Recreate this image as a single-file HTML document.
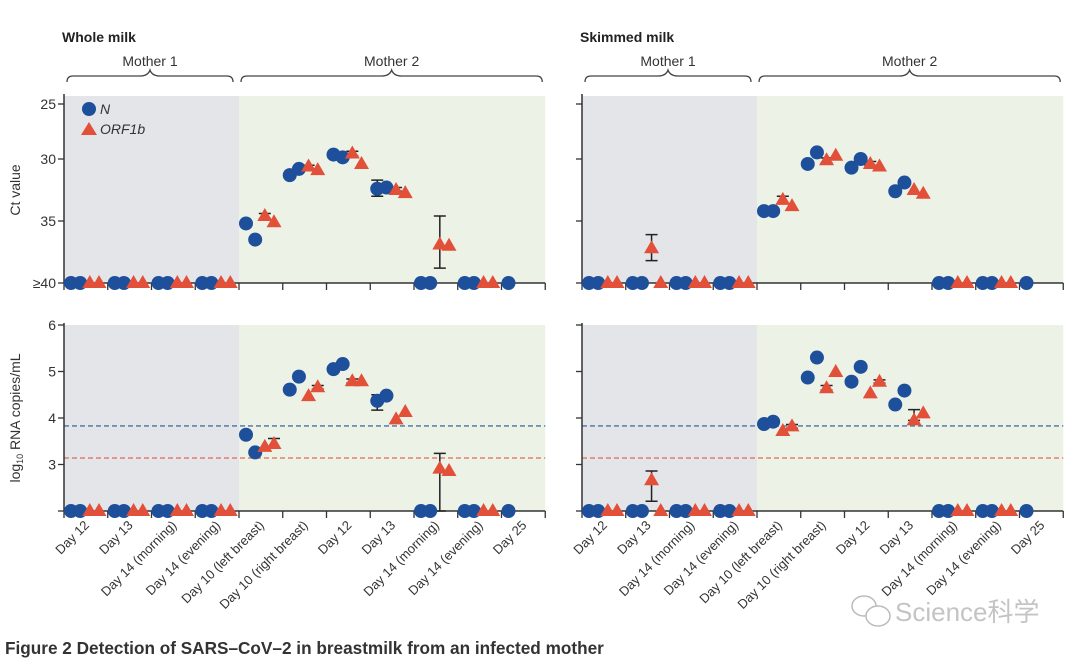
<!DOCTYPE html>
<html><head><meta charset="utf-8">
<style>
html,body{margin:0;padding:0;background:#fff;}
body{width:1080px;height:661px;overflow:hidden;font-family:"Liberation Sans","Noto Sans CJK SC",sans-serif;}
svg text{font-family:"Liberation Sans","Noto Sans CJK SC",sans-serif;}
</style></head>
<body>
<svg id="fig" width="1080" height="661" viewBox="0 0 1080 661" xmlns="http://www.w3.org/2000/svg">
</svg>
<script>
// ---- data ----
const categories = ["Day 12","Day 13","Day 14 (morning)","Day 14 (evening)","Day 10 (left breast)","Day 10 (right breast)","Day 12","Day 13","Day 14 (morning)","Day 14 (evening)","Day 25"];
// each category: [N rep1, N rep2, ORF1b rep1, ORF1b rep2]; null = no point
const wholeCt = [
 [40,40,40,40],[40,40,40,40],[40,40,40,40],[40,40,40,40],
 [35.2,36.5,34.6,35.1],[31.3,30.8,30.6,30.9],[29.6,29.85,29.5,30.4],
 [32.4,32.3,32.5,32.75],[40,40,36.9,37.0],[40,40,40,40],[40,null,null,null]];
const wholeCopies = [
 [2,2,2,2],[2,2,2,2],[2,2,2,2],[2,2,2,2],
 [3.64,3.26,3.38,3.44],[4.61,4.89,4.47,4.66],[5.05,5.16,4.79,4.79],
 [4.37,4.48,3.97,4.13],[2,2,2.91,2.86],[2,2,2,2],[2,null,null,null]];
const skimCt = [
 [40,40,40,40],[40,40,37.2,40],[40,40,40,40],[40,40,40,40],
 [34.2,34.2,33.3,33.8],[30.4,29.4,30.1,29.7],[30.7,30.0,30.4,30.6],
 [32.6,31.9,32.5,32.8],[40,40,40,40],[40,40,40,40],[40,null,null,null]];
const skimCopies = [
 [2,2,2,2],[2,2,2.66,2],[2,2,2,2],[2,2,2,2],
 [3.87,3.92,3.72,3.82],[4.87,5.30,4.64,4.99],[4.78,5.10,4.53,4.78],
 [4.29,4.59,3.95,4.10],[2,2,2,2],[2,2,2,2],[2,null,null,null]];
// error bars: [category, slot, low, high]
const wholeCtErr = [[4,2,34.4,34.8],[7,0,31.7,33.0],[7,2,32.3,32.6],[8,2,34.6,38.8],[6,2,29.3,29.7],[5,2,30.5,30.8]];
const wholeCopiesErr = [[4,3,3.35,3.56],[7,0,4.17,4.5],[8,2,2.0,3.24],[6,2,4.75,4.84],[5,3,4.62,4.7]];
const skimCtErr = [[1,2,36.1,38.2],[4,2,33.0,33.6],[7,1,31.7,32.0],[6,2,30.2,30.5],[5,2,29.9,30.3]];
const skimCopiesErr = [[1,2,2.21,2.86],[7,2,3.95,4.18],[4,3,3.78,3.86],[5,2,4.6,4.7],[6,3,4.75,4.82]];
const ctTicks = [25,30,35,40];
const ctTickLabels = ["25","30","35","≥40"];
const copiesTicks = [3,4,5,6];
const lodN = 3.83, lodORF = 3.14;

// ---- layout ----
const NS="http://www.w3.org/2000/svg";
const svg=document.getElementById('fig');
function el(tag,attrs,parent){const e=document.createElementNS(NS,tag);for(const k in attrs)e.setAttribute(k,attrs[k]);(parent||svg).appendChild(e);return e;}
const BLUE="#1d4f9b", RED="#e2503a";
const catW=43.75, slots=[0.16,0.37,0.59,0.80];
const ctPx=[104,159,221,283]; // pixel positions of ct ticks (broken axis)
function yCt(v){for(let i=0;i<ctTicks.length-1;i++){if(v<=ctTicks[i+1]){return ctPx[i]+(v-ctTicks[i])/(ctTicks[i+1]-ctTicks[i])*(ctPx[i+1]-ctPx[i]);}}return ctPx[3];}
function yCopies(v){return 511-(v-2)*46.5;}

function drawPanel(x0,name,ctData,cpData,ctErr,cpErr,showLabels){
  const g=el('g',{});  
  const xEnd=x0+catW*11, xSplit=x0+catW*4;
  const xOf=(c,s)=>x0+catW*c+catW*slots[s];
  [[96,283,yCt,ctData,ctErr,'ct'],[325,511,yCopies,cpData,cpErr,'copies']].forEach(([top,bot,yf,data,err,kind])=>{
    const sg=el('g',{},g);  
    const r1=el('rect',{x:x0,y:top,width:xSplit-x0,height:bot-top,fill:'#e3e5e9'},sg);
     
    const r2=el('rect',{x:xSplit,y:top,width:xEnd-xSplit,height:bot-top,fill:'#edf2e6'},sg);
     
    if(kind==='copies'){
      const l1=el('line',{x1:x0,x2:xEnd,y1:yCopies(lodN),y2:yCopies(lodN),stroke:'#4d6fa8','stroke-width':1.4,'stroke-dasharray':'5,3'},sg);
       
      const l2=el('line',{x1:x0,x2:xEnd,y1:yCopies(lodORF),y2:yCopies(lodORF),stroke:'#e2806e','stroke-width':1.4,'stroke-dasharray':'5,3'},sg);
       
    }
    el('line',{x1:x0,x2:x0,y1:top-2,y2:bot,stroke:'#333','stroke-width':1.5},sg);
    el('line',{x1:x0,x2:xEnd,y1:bot,y2:bot,stroke:'#333','stroke-width':1.5},sg);
    for(let c=0;c<=11;c++){el('line',{x1:x0+c*catW,x2:x0+c*catW,y1:bot,y2:bot+7,stroke:'#333','stroke-width':1.3},sg);}
    const tv= kind==='ct'?ctTicks:[2].concat(copiesTicks);
    tv.forEach((v,i)=>{const y=yf(v);el('line',{x1:x0-6,x2:x0,y1:y,y2:y,stroke:'#333','stroke-width':1.3},sg);
      if(showLabels && !(kind==='copies'&&v===2)){const t=el('text',{x:x0-8,y:y+5,'text-anchor':'end','font-size':14,fill:'#333'},sg);
        t.textContent= kind==='ct'?ctTickLabels[i]:String(v);
         }});
    err.forEach(([c,s,lo,hi])=>{const x=xOf(c,s);const ya=yf(lo),yb=yf(hi);
      const e=el('path',{d:`M${x},${ya}V${yb}M${x-6},${ya}H${x+6}M${x-6},${yb}H${x+6}`,stroke:'#222','stroke-width':1.5,fill:'none'},sg);
       });
    data.forEach((vals,c)=>{vals.forEach((v,s)=>{if(v===null)return;const x=xOf(c,s),y=yf(v);
      if(s<2){const m=el('circle',{cx:x,cy:y,r:7,fill:BLUE},sg);
         }
      else{const m=el('polygon',{points:`${x},${y-8} ${x-7.5},${y+5} ${x+7.5},${y+5}`,fill:RED},sg);
         }});});
  });
  categories.forEach((lab,c)=>{const cx=x0+catW*(c+0.5)+4;const t=el('text',{x:cx,y:526,'text-anchor':'end','font-size':13,fill:'#333',transform:`rotate(-45 ${cx} 526)`},g);
    t.textContent=lab;  });
  function brace(xa,xb,label,nm){const m=(xa+xb)/2;
    const p=el('path',{d:`M${xa},82 Q${xa},76 ${xa+6},76 L${m-10},76 Q${m-2},76 ${m},70 Q${m+2},76 ${m+10},76 L${xb-6},76 Q${xb},76 ${xb},82`,stroke:'#444','stroke-width':1.3,fill:'none'},g);
     
    const t=el('text',{x:m,y:66,'text-anchor':'middle','font-size':14,fill:'#333'},g);t.textContent=label;
     }
  brace(x0+3,xSplit-6,'Mother 1','mother1'); brace(xSplit+2,xEnd-3,'Mother 2','mother2');
}
drawPanel(64,'whole-milk',wholeCt,wholeCopies,wholeCtErr,wholeCopiesErr,true);
drawPanel(582,'skimmed-milk',skimCt,skimCopies,skimCtErr,skimCopiesErr,false);

let t=el('text',{x:62,y:42,'font-size':14,'font-weight':'bold',fill:'#222'});t.textContent='Whole milk';
 
t=el('text',{x:580,y:42,'font-size':14,'font-weight':'bold',fill:'#222'});t.textContent='Skimmed milk';
 
t=el('text',{x:20,y:190,'text-anchor':'middle','font-size':14,fill:'#333',transform:'rotate(-90 20 190)'});t.textContent='Ct value';
 
t=el('text',{x:20,y:418,'text-anchor':'middle','font-size':14,fill:'#333',transform:'rotate(-90 20 418)'});
t.innerHTML='log<tspan font-size="9" dy="3">10</tspan><tspan dy="-3"> RNA copies/mL</tspan>';
 
const lg=el('g',{});
el('circle',{cx:89,cy:109,r:7,fill:BLUE},lg);
t=el('text',{x:100,y:114,'font-size':14,'font-style':'italic',fill:'#333'},lg);t.textContent='N';
 
el('polygon',{points:'89,122 81,135 97,135',fill:RED},lg);
t=el('text',{x:100,y:134,'font-size':14,'font-style':'italic',fill:'#333'},lg);t.textContent='ORF1b';
 
const wm=el('g',{});
el('ellipse',{cx:864,cy:606,rx:12,ry:10,fill:'none',stroke:'#bbb','stroke-width':1.5},wm);
el('ellipse',{cx:878,cy:616,rx:12,ry:10,fill:'#fff',stroke:'#bbb','stroke-width':1.5},wm);
t=el('text',{x:895,y:621,'font-size':26,fill:'#c4c4c4'},wm);t.textContent='Science科学';
t=el('text',{x:5,y:654,'font-size':17.2,'font-weight':'bold',fill:'#333'});t.textContent='Figure 2 Detection of SARS–CoV–2 in breastmilk from an infected mother';
 
</script>
</body></html>
